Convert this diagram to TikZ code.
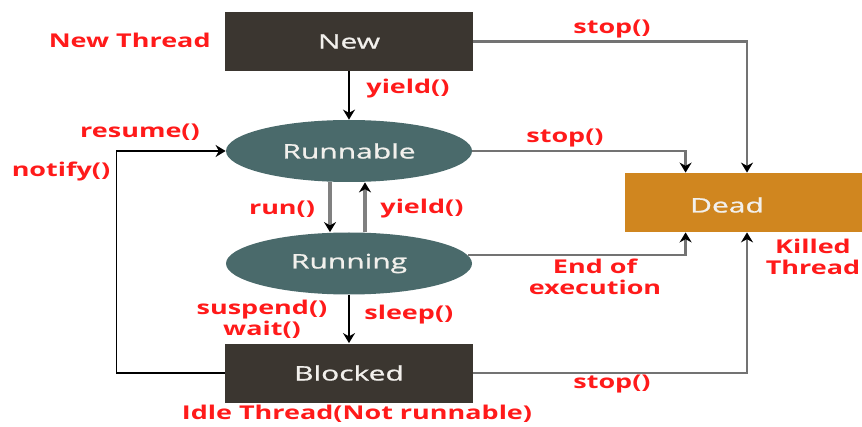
\documentclass[tikz,border=0pt]{standalone}
\usepackage{fontspec}
\newfontfamily\diafont[FakeStretch=1.42]{Open Sans}
\newfontfamily\statefont[FakeStretch=1.5,FakeBold=1]{Open Sans}
\usetikzlibrary{arrows.meta,shapes.geometric}
\definecolor{boxdark}{HTML}{3B3630}
\definecolor{ovalteal}{HTML}{4A6A6B}
\definecolor{deadorange}{HTML}{D0861F}
\definecolor{callred}{HTML}{FF1A1A}
\definecolor{paletext}{HTML}{F2F0EC}
\tikzset{
  >={Stealth[length=5pt,width=6pt,color=black]},
  % states
  tb/.style={rectangle,fill=boxdark,text=paletext,minimum width=124pt,
             minimum height=29.5pt,inner sep=0pt,font=\statefont\fontsize{10}{12}\selectfont},
  te/.style={ellipse,fill=ovalteal,text=paletext,minimum width=123pt,
             minimum height=31pt,inner sep=0pt,font=\statefont\fontsize{10}{12}\selectfont},
  db/.style={rectangle,fill=deadorange,minimum width=120pt,minimum height=29.5pt,inner sep=0pt},
  dt/.style={text=paletext,inner sep=0pt,font=\statefont\fontsize{10}{12}\selectfont},
  % labels and connectors
  tl/.style={text=callred,inner sep=1pt,align=center,
             font=\diafont\bfseries\fontsize{9.5}{10.5}\selectfont},
  ta/.style={->,draw=black,line width=0.8pt},
  tg/.style={->,draw=black!55,line width=1.2pt},
  tgt/.style={->,draw=black!50,line width=1.8pt},
}
\begin{document}
\begin{tikzpicture}[x=0.5pt,y=-0.5pt]
\useasboundingbox (0,0) rectangle (862,427);
  \node[tb] (new) at (349,41.5) {New};
  \node[te] (runnable) at (349,151) {Runnable};
  \node[te] (running) at (349,263.5) {Running};
  \node[tb] (blocked) at (349,373) {Blocked};
  \node[db] (dead) at (745,202.5) {};
  \node[dt] (deadtxt) at (727,205) {Dead};
  \draw[ta] (new) -- (runnable);
  \draw[tg] (new.east) -| ([xshift=1pt]dead.north);
  \draw[tg] (runnable.east) -| ([xshift=30.5pt]dead.north west);
  \draw[tg] (running.4) -| ([xshift=30.5pt]dead.south west);
  \draw[tg] (blocked.east) -| ([xshift=1pt]dead.south);
  \draw[ta] (blocked.west) -- ++(-108,0) |- (runnable.west);
  \draw[tgt] ([xshift=-9.5pt]runnable.south) -- ([xshift=-9.5pt]running.north);
  \draw[tgt] ([xshift=8pt]running.north) -- ([xshift=8pt]runnable.south);
  \draw[ta] (running) -- (blocked);
  \node[tl,anchor=east] (newthread) at (213,40) {New Thread};
  \node[tl,anchor=west] (yieldtop) at (364,89) {yield()};
  \node[tl] (stoptop) at (612,29) {stop()};
  \node[tl] (resume) at (140,132) {resume()};
  \node[tl] (notify) at (61,172) {notify()};
  \node[tl] (stopmid) at (565,138) {stop()};
  \node[tl] (run) at (282,209) {run()};
  \node[tl,anchor=west] (yieldmid) at (378,209) {yield()};
  \node[tl] (endexec) at (595,277) {End of\\execution};
  \node[tl] (killed) at (813,257) {Killed\\Thread};
  \node[tl] (suspend) at (262,319) {suspend()\\wait()};
  \node[tl,anchor=west] (sleep) at (362,315) {sleep()};
  \node[tl] (stopbot) at (612,384) {stop()};
  \node[tl] (idle) at (357,414) {Idle Thread(Not runnable)};
\end{tikzpicture}
\end{document}
